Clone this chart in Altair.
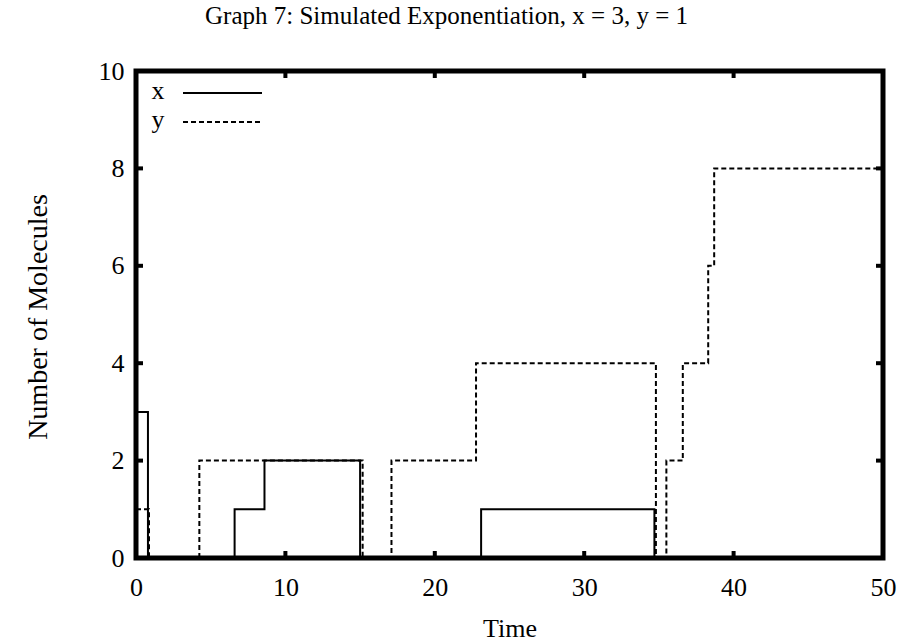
import altair as alt
import pandas as pd

# ---- data ----
x_times = [0, 0.8, 6.6, 8.6, 15.0, 23.1, 34.7, 50]
x_vals = [3, 0, 1, 2, 0, 1, 0, 0]
y_times = [0, 0.87, 4.24, 15.17, 17.1, 22.76, 34.8, 35.5, 36.6, 38.3, 38.7, 50]
y_vals = [1, 0, 2, 0, 2, 4, 0, 2, 4, 6, 8, 8]

x_ticks = [0, 10, 20, 30, 40, 50]
y_ticks = [0, 2, 4, 6, 8, 10]

FONT = "Liberation Serif"
W, H = 747, 487

df_x = pd.DataFrame({"t": x_times, "n": x_vals})
df_y = pd.DataFrame({"t": y_times, "n": y_vals})

xs = alt.Scale(domain=[0, 50], nice=False, zero=False)
ys = alt.Scale(domain=[0, 10], nice=False, zero=False)

x_axis = alt.Axis(values=x_ticks, ticks=False, domain=False, grid=False,
                  labelFont=FONT, labelFontSize=26, labelColor="black",
                  labelPadding=16, labelFlush=False,
                  title="Time", titleFont=FONT, titleFontSize=26,
                  titleFontWeight="normal", titleColor="black",
                  titleY=70, titleBaseline="middle")
y_axis = alt.Axis(values=y_ticks, ticks=False, domain=False, grid=False,
                  labelFont=FONT, labelFontSize=26, labelColor="black",
                  labelPadding=12, labelFlush=False,
                  title="Number of Molecules", titleFont=FONT, titleFontSize=28,
                  titleFontWeight="normal", titleColor="black",
                  titleX=-98, titleY=H / 2 + 2, titleBaseline="middle")

line_x = alt.Chart(df_x).mark_line(interpolate="step-after", color="black",
                                   strokeWidth=2).encode(
    x=alt.X("t:Q", scale=xs, axis=x_axis),
    y=alt.Y("n:Q", scale=ys, axis=y_axis),
)
line_y = alt.Chart(df_y).mark_line(interpolate="step-after", color="black",
                                   strokeWidth=2, strokeDash=[5, 3]).encode(
    x=alt.X("t:Q", scale=xs),
    y=alt.Y("n:Q", scale=ys),
)

# inward ticks on all four sides (gnuplot style)
tx = 7 / W * 50
ty = 7 / H * 10
bt = pd.DataFrame({"t": x_ticks})
lt = pd.DataFrame({"v": y_ticks})
tick_bottom = alt.Chart(bt).transform_calculate(a="0", b=f"{ty}").mark_rule(
    color="black", strokeWidth=4).encode(x=alt.X("t:Q", scale=xs),
                                         y=alt.Y("a:Q", scale=ys), y2="b:Q")
tick_top = alt.Chart(bt).transform_calculate(a="10", b=f"{10 - ty}").mark_rule(
    color="black", strokeWidth=4).encode(x=alt.X("t:Q", scale=xs),
                                         y=alt.Y("a:Q", scale=ys), y2="b:Q")
tick_left = alt.Chart(lt).transform_calculate(a="0", b=f"{tx}").mark_rule(
    color="black", strokeWidth=4).encode(y=alt.Y("v:Q", scale=ys),
                                         x=alt.X("a:Q", scale=xs), x2="b:Q")
tick_right = alt.Chart(lt).transform_calculate(a="50", b=f"{50 - tx}").mark_rule(
    color="black", strokeWidth=4).encode(y=alt.Y("v:Q", scale=ys),
                                         x=alt.X("a:Q", scale=xs), x2="b:Q")

# legend (label left of sample, as in gnuplot)
leg_df = pd.DataFrame({"lab": ["x"]})
leg_x_text = alt.Chart(leg_df).mark_text(font=FONT, fontSize=26, color="black",
                                         align="center", baseline="middle").encode(
    x=alt.value(22), y=alt.value(20), text="lab:N")
leg_x_line = alt.Chart(leg_df).mark_rule(color="black", strokeWidth=2).encode(
    x=alt.value(47), x2=alt.value(126), y=alt.value(22))
leg_df2 = pd.DataFrame({"lab": ["y"]})
leg_y_text = alt.Chart(leg_df2).mark_text(font=FONT, fontSize=26, color="black",
                                          align="center", baseline="middle").encode(
    x=alt.value(22), y=alt.value(49), text="lab:N")
leg_y_line = alt.Chart(leg_df2).mark_rule(color="black", strokeWidth=2,
                                          strokeDash=[5, 3]).encode(
    x=alt.value(47), x2=alt.value(126), y=alt.value(51))

chart = alt.layer(
    line_x, line_y, tick_bottom, tick_top, tick_left, tick_right,
    leg_x_text, leg_x_line, leg_y_text, leg_y_line,
).properties(
    width=W, height=H,
    title=alt.TitleParams(
        "Graph 7: Simulated Exponentiation, x = 3, y = 1",
        font=FONT, fontSize=25, fontWeight="normal", color="black",
        anchor="middle", dx=-63, offset=9, baseline="alphabetic"),
    autosize=alt.AutoSizeParams(type="none"),
    padding={"left": 136, "top": 71, "right": 23, "bottom": 86},
).configure(background="white").configure_view(stroke="black", strokeWidth=5)

chart.save("out.html", embed_options={"renderer": "svg", "actions": False})
